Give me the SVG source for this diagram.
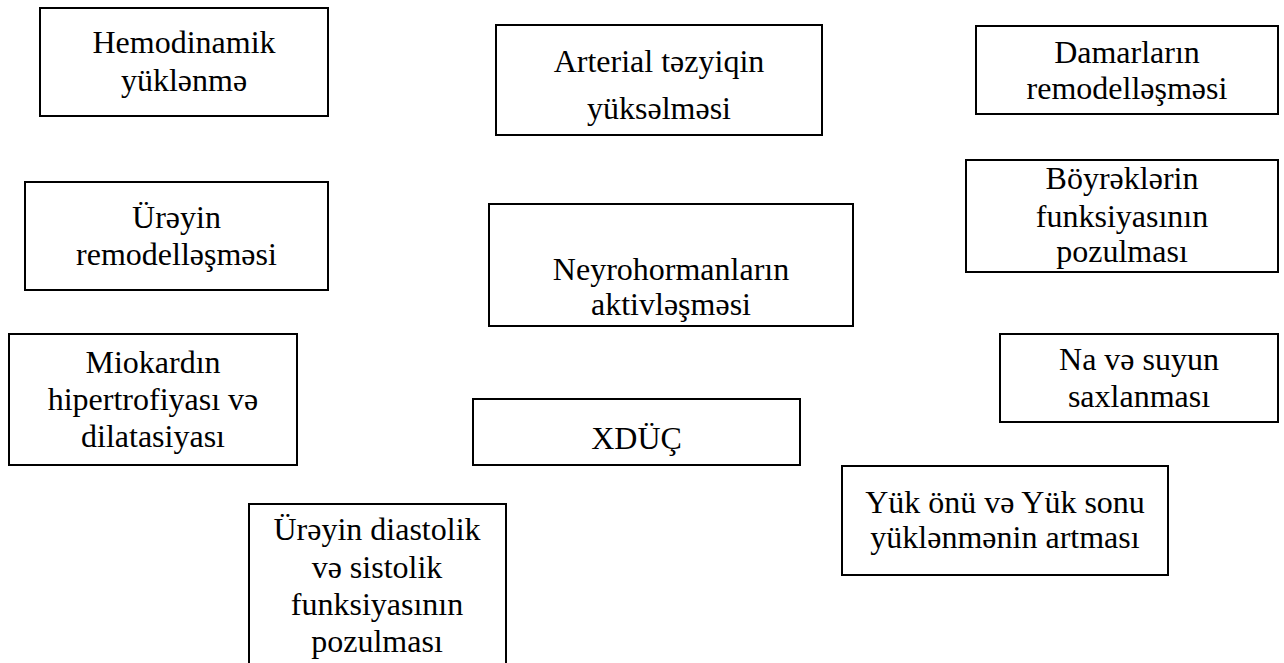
<svg xmlns="http://www.w3.org/2000/svg" width="1284" height="663" viewBox="0 0 1284 663">
<style>
.box{fill:#fff;stroke:#000;stroke-width:2}
.t{font-family:"Liberation Serif","DejaVu Serif","Times New Roman",serif;font-size:32px;fill:#000;text-anchor:middle}
</style>
<rect width="1284" height="663" fill="#fff"/>
<g id="connectors"></g>
<g id="hemodinamik">
<rect class="box" x="40" y="8" width="288" height="108"/>
<text class="t" x="184" y="53">Hemodinamik</text>
<text class="t" x="184" y="91">yüklənmə</text>
</g>
<g id="arterial">
<rect class="box" x="496" y="25" width="326" height="110"/>
<text class="t" x="659" y="72">Arterial təzyiqin</text>
<text class="t" x="659" y="119">yüksəlməsi</text>
</g>
<g id="damarlar">
<rect class="box" x="976" y="26" width="302" height="88"/>
<text class="t" x="1127" y="63">Damarların</text>
<text class="t" x="1127" y="99">remodelləşməsi</text>
</g>
<g id="ureyin-remodel">
<rect class="box" x="25" y="182" width="303" height="108"/>
<text class="t" x="176.5" y="228">Ürəyin</text>
<text class="t" x="176.5" y="265">remodelləşməsi</text>
</g>
<g id="neyrohormon">
<rect class="box" x="489" y="204" width="364" height="122"/>
<text class="t" x="671" y="280">Neyrohormanların</text>
<text class="t" x="671" y="315">aktivləşməsi</text>
</g>
<g id="boyrek">
<rect class="box" x="966" y="160" width="312" height="112"/>
<text class="t" x="1122" y="189">Böyrəklərin</text>
<text class="t" x="1122" y="227">funksiyasının</text>
<text class="t" x="1122" y="262">pozulması</text>
</g>
<g id="miokard">
<rect class="box" x="9" y="334" width="288" height="131"/>
<text class="t" x="153" y="373">Miokardın</text>
<text class="t" x="153" y="410">hipertrofiyası və</text>
<text class="t" x="153" y="447">dilatasiyası</text>
</g>
<g id="na-su">
<rect class="box" x="1000" y="334" width="278" height="88"/>
<text class="t" x="1139" y="370">Na və suyun</text>
<text class="t" x="1139" y="407">saxlanması</text>
</g>
<g id="xduc">
<rect class="box" x="473" y="399" width="327" height="66"/>
<text class="t" x="636.5" y="449">XDÜÇ</text>
</g>
<g id="yuk">
<rect class="box" x="842" y="466" width="326" height="109"/>
<text class="t" x="1005" y="513">Yük önü və Yük sonu</text>
<text class="t" x="1005" y="548">yüklənmənin artması</text>
</g>
<g id="ureyin-funksiya">
<rect class="box" x="249" y="504" width="257" height="180"/>
<text class="t" x="377" y="540">Ürəyin diastolik</text>
<text class="t" x="377" y="578">və sistolik</text>
<text class="t" x="377" y="615">funksiyasının</text>
<text class="t" x="377" y="652">pozulması</text>
</g>
</svg>
